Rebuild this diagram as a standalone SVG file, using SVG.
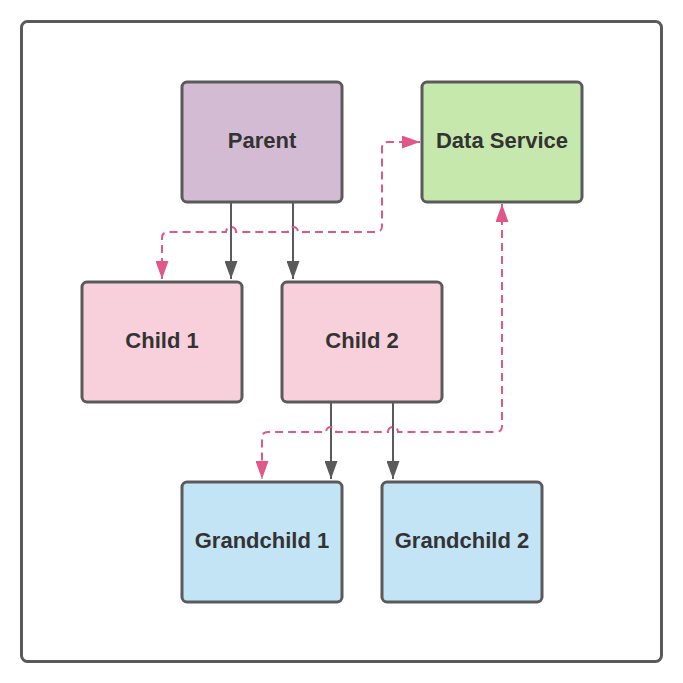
<svg xmlns="http://www.w3.org/2000/svg" width="683" height="683" viewBox="0 0 683 683">
<style>
.box{stroke:#5a5a5a;stroke-width:3}
.lbl{font-family:"Liberation Sans",Arial,sans-serif;font-weight:bold;font-size:22px;fill:#333333;text-anchor:middle}
.solid{fill:none;stroke:#5a5a5a;stroke-width:2}
.dash{fill:none;stroke:#e0588a;stroke-width:2;stroke-dasharray:8 5}
</style>
<defs>
<marker id="ag" viewBox="0 0 18 13" refX="18" refY="6.5" markerWidth="18" markerHeight="13" markerUnits="userSpaceOnUse" orient="auto-start-reverse"><path d="M0,0 L18,6.5 L0,13 Z" fill="#5a5a5a"/></marker>
<marker id="ap" viewBox="0 0 18 13" refX="18" refY="6.5" markerWidth="18" markerHeight="13" markerUnits="userSpaceOnUse" orient="auto-start-reverse"><path d="M0,0 L18,6.5 L0,13 Z" fill="#e0588a"/></marker>
</defs>
<rect width="683" height="683" fill="#ffffff"/>
<rect x="21.5" y="21.5" width="640" height="640" rx="6" fill="#ffffff" stroke="#5a5a5a" stroke-width="3"/>
<g id="connectors">
<path class="solid" d="M231,202 V279" marker-end="url(#ag)"/>
<path class="solid" d="M293,202 V279" marker-end="url(#ag)"/>
<path class="solid" d="M331,402 V479" marker-end="url(#ag)"/>
<path class="solid" d="M393,402 V479" marker-end="url(#ag)"/>
<path class="dash" d="M420,142 H388 Q382,142 382,148 V226 Q382,232 376,232 H298 A5,5 0 0 0 288,232 H236 A5,5 0 0 0 226,232 H168 Q162,232 162,238 V279" marker-start="url(#ap)" marker-end="url(#ap)"/>
<path class="dash" d="M502,204 V426 Q502,432 496,432 H398 A5,5 0 0 0 388,432 H336 A5,5 0 0 0 326,432 H268 Q262,432 262,438 V479" marker-start="url(#ap)" marker-end="url(#ap)"/>
</g>
<g id="parent"><rect class="box" x="182" y="82" width="160" height="120" rx="5" fill="#d3bcd3"/><text class="lbl" x="262" y="148">Parent</text></g>
<g id="data-service"><rect class="box" x="422" y="82" width="160" height="120" rx="5" fill="#c7e8ac"/><text class="lbl" x="502" y="148">Data Service</text></g>
<g id="child1"><rect class="box" x="82" y="282" width="160" height="120" rx="5" fill="#f8d0dc"/><text class="lbl" x="162" y="348">Child 1</text></g>
<g id="child2"><rect class="box" x="282" y="282" width="160" height="120" rx="5" fill="#f8d0dc"/><text class="lbl" x="362" y="348">Child 2</text></g>
<g id="grandchild1"><rect class="box" x="182" y="482" width="160" height="120" rx="5" fill="#c3e4f5"/><text class="lbl" x="262" y="548">Grandchild 1</text></g>
<g id="grandchild2"><rect class="box" x="382" y="482" width="160" height="120" rx="5" fill="#c3e4f5"/><text class="lbl" x="462" y="548">Grandchild 2</text></g>
</svg>
